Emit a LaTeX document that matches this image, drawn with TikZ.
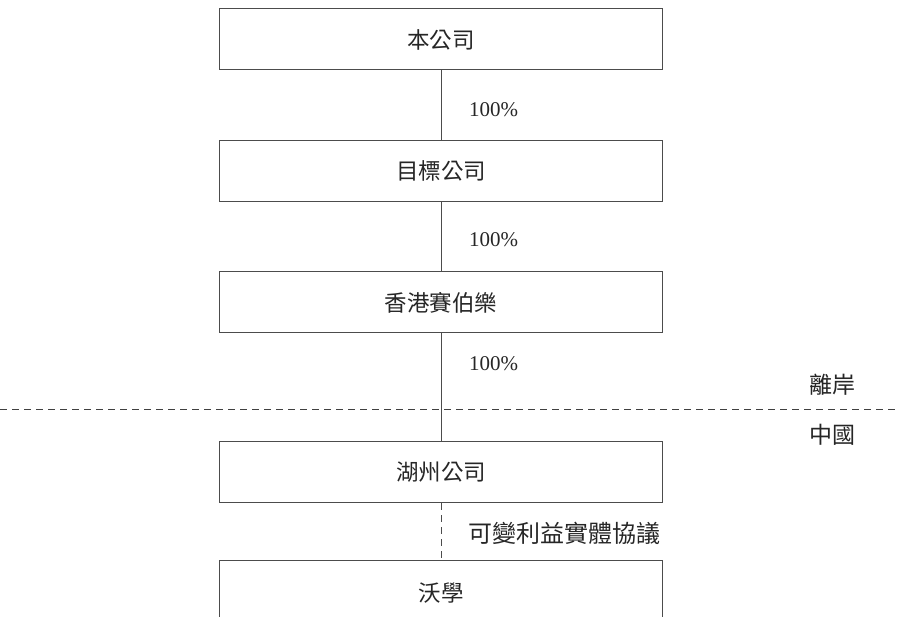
\documentclass[tikz,border=0pt]{standalone}
\usepackage{fontspec}
\setmainfont{Liberation Serif}
\newfontfamily\cjk{Noto Sans CJK TC}
\begin{document}
\begin{tikzpicture}[x=1pt,y=-1pt,
  entity/.style={draw=black!70,line width=1pt,minimum width=443pt,minimum height=61pt,inner sep=0pt,
    font=\cjk\fontsize{22.5}{26}\selectfont,text=black!85},
  link/.style={draw=black!70,line width=1pt},
  vie/.style={draw=black!70,line width=1pt,dash pattern=on 7pt off 5pt},
  divider/.style={draw=black!75,line width=1pt,dash pattern=on 7pt off 5pt},
  pct/.style={anchor=west,inner sep=0pt,font=\fontsize{21}{24}\selectfont,text=black!85},
  lbl/.style={anchor=west,inner sep=0pt,font=\cjk\fontsize{24}{28}\selectfont,text=black!85}]
\useasboundingbox (0,0) rectangle (897,617);
\node[entity] (b1) at (441,39.5) {本公司};
\node[entity] (b2) at (441,171.2) {目標公司};
\node[entity] (b3) at (441,302.5) {香港賽伯樂};
\node[entity] (b4) at (441,472) {湖州公司};
\node[entity,minimum height=66pt] (b5) at (441,593) {沃學};
\coordinate (dl) at (0,410);
\coordinate (dr) at (897,410);
\draw[divider] (dl) -- (dr);
\draw[link] (b1) -- (b2);
\draw[link] (b2) -- (b3);
\draw[link] (b3) -- (b4);
\draw[vie] (b4) -- (b5);
\node[pct] (p1) at (469,110) {100\%};
\node[pct] (p2) at (469,240) {100\%};
\node[pct] (p3) at (469,364) {100\%};
\node[lbl] (v) at (468,533) {可變利益實體協議};
\node[lbl,font=\cjk\fontsize{23}{27}\selectfont] (off) at (809,385) {離岸};
\node[lbl,font=\cjk\fontsize{23}{27}\selectfont] (cn) at (809,435) {中國};
\end{tikzpicture}
\end{document}
